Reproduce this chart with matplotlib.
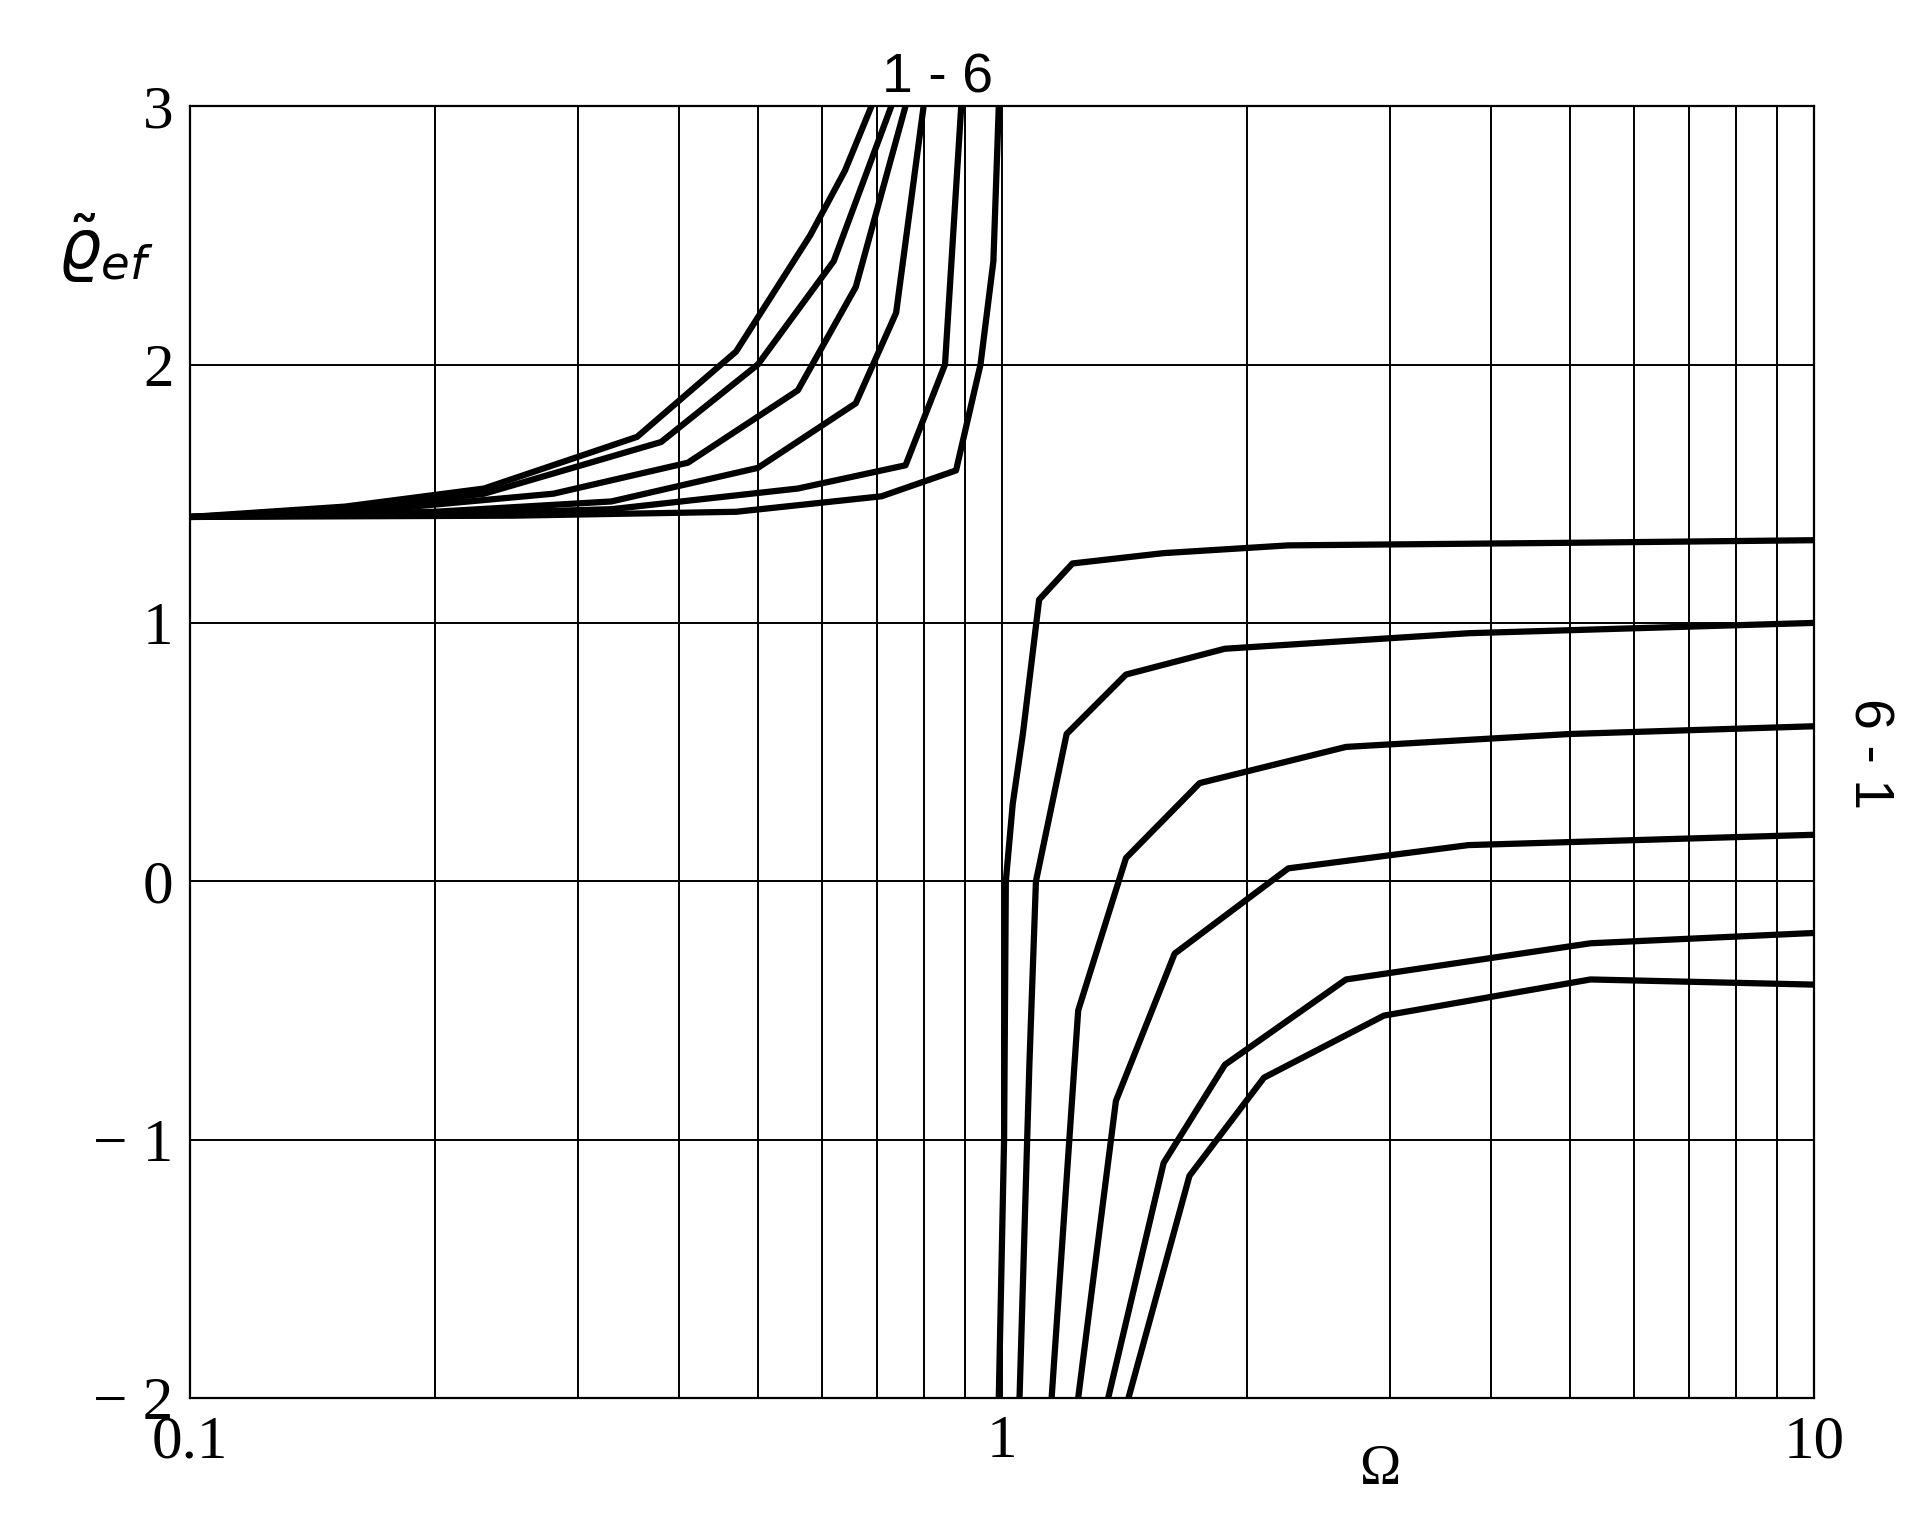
import matplotlib
matplotlib.use("Agg")
import matplotlib.pyplot as plt
from matplotlib.ticker import FixedLocator, NullFormatter

# Left branch curves (Omega, Q)
left_x = [
    [0.1, 0.155, 0.23, 0.355, 0.47, 0.58, 0.64, 0.69],
    [0.1, 0.16, 0.23, 0.38, 0.50, 0.62, 0.73],
    [0.1, 0.16, 0.28, 0.41, 0.56, 0.66, 0.76],
    [0.1, 0.2, 0.33, 0.50, 0.66, 0.74, 0.80],
    [0.1, 0.2, 0.33, 0.56, 0.76, 0.85, 0.89],
    [0.1, 0.25, 0.47, 0.71, 0.877, 0.94, 0.975, 0.99],
]
left_y = [
    [1.41, 1.45, 1.52, 1.72, 2.05, 2.5, 2.75, 3.0],
    [1.41, 1.44, 1.50, 1.70, 2.0, 2.4, 3.0],
    [1.41, 1.43, 1.50, 1.62, 1.9, 2.3, 3.0],
    [1.41, 1.43, 1.47, 1.6, 1.85, 2.2, 3.0],
    [1.41, 1.42, 1.44, 1.52, 1.61, 2.0, 3.0],
    [1.41, 1.415, 1.43, 1.49, 1.59, 2.0, 2.4, 3.0],
]
# Right branch curves
right_x = [
    [0.99, 1.005, 1.01, 1.03, 1.06, 1.11, 1.22, 1.58, 2.25, 5.0, 10.0],
    [1.05, 1.08, 1.10, 1.2, 1.42, 1.88, 3.75, 10.0],
    [1.15, 1.24, 1.42, 1.75, 2.65, 5.0, 10.0],
    [1.24, 1.38, 1.63, 2.25, 3.75, 10.0],
    [1.35, 1.58, 1.88, 2.65, 5.3, 10.0],
    [1.43, 1.7, 2.1, 2.95, 5.3, 10.0],
]
right_y = [
    [-2.0, -1.0, 0.0, 0.3, 0.57, 1.09, 1.23, 1.27, 1.3, 1.31, 1.32],
    [-2.0, -0.7, 0.0, 0.57, 0.8, 0.9, 0.96, 1.0],
    [-2.0, -0.5, 0.09, 0.38, 0.52, 0.57, 0.6],
    [-2.0, -0.85, -0.28, 0.05, 0.14, 0.18],
    [-2.0, -1.09, -0.71, -0.38, -0.24, -0.2],
    [-2.0, -1.14, -0.76, -0.52, -0.38, -0.4],
]
yticks = [-2, -1, 0, 1, 2, 3]
ylabels = ["\u2212 2", "\u2212 1", "0", "1", "2", "3"]
xticks = [0.1, 1, 10]
xlabels = ["0.1", "1", "10"]

fig = plt.figure(figsize=(19.22, 15.38), dpi=100)
ax = fig.add_axes([0.099, 0.091, 0.845, 0.84])
ax.set_xscale("log")
ax.set_xlim(0.1, 10)
ax.set_ylim(-2, 3)

minor = [m * d for d in (0.1, 1) for m in range(2, 10)]
for v in minor:
    ax.axvline(v, color="black", lw=1.4, zorder=1)
ax.axvline(1, color="black", lw=1.4, zorder=1)
for v in yticks:
    ax.axhline(v, color="black", lw=1.4, zorder=1)

for xs, ys in zip(left_x, left_y):
    ax.plot(xs, ys, color="black", lw=4.5, solid_capstyle="butt", zorder=3)
for xs, ys in zip(right_x, right_y):
    ax.plot(xs, ys, color="black", lw=4.5, solid_capstyle="butt", zorder=3)

for s in ax.spines.values():
    s.set_linewidth(1.6)
ax.set_xticks(xticks)
ax.set_xticklabels(xlabels, family="Liberation Serif", fontsize=44)
ax.xaxis.set_minor_locator(FixedLocator(minor))
ax.xaxis.set_minor_formatter(NullFormatter())
ax.set_yticks(yticks)
ax.set_yticklabels(ylabels, family="Liberation Serif", fontsize=44)
ax.tick_params(length=0, which="both", pad=12)

fig.text(0.718, 0.035, "\u03a9", family="Liberation Serif", fontsize=40, ha="center")
fig.text(0.055, 0.825, r"$\tilde{\varrho}_{ef}$", fontsize=48, ha="center")
fig.text(0.488, 0.94, "1 - 6", family="Liberation Sans", fontsize=40, ha="center")
fig.text(0.972, 0.51, "6 - 1", family="Liberation Sans", fontsize=40, ha="center",
         va="center", rotation=-90)

fig.savefig("out.png", dpi=100, facecolor="white")
